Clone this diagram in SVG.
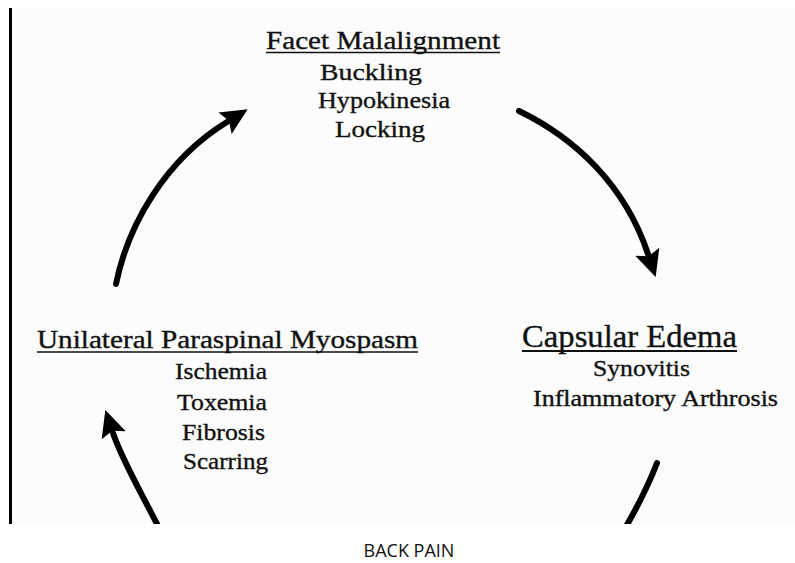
<svg xmlns="http://www.w3.org/2000/svg" width="795" height="563" viewBox="0 0 795 563">
<style>
.t{font-family:"Liberation Serif","Times New Roman",serif;fill:#111;stroke:#111;stroke-width:0.35;text-anchor:start}
.h{font-size:25px}
.h2{font-size:32px}
.s{font-size:23px}
.ul{stroke:#111;stroke-width:1.6}
.arr{fill:none;stroke:#000;stroke-width:6;stroke-linecap:round}
.cap{font-family:"Open Sans","Noto Sans",sans-serif;font-size:18px;fill:#111;text-anchor:middle}
</style>
<defs>
<marker id="ah" markerUnits="userSpaceOnUse" markerWidth="30" markerHeight="30" refX="2" refY="0" viewBox="0 -12 26 24" orient="auto">
<path d="M0,-11 L23,0 L0,11 L4,0 z" fill="#000"/>
</marker>
<clipPath id="pic"><rect x="12" y="8" width="783" height="516"/></clipPath>
</defs>
<rect x="0" y="0" width="795" height="563" fill="#fff"/>
<rect x="12" y="8" width="783" height="516" fill="#fbfcfb"/>
<rect x="9" y="8" width="3" height="516" fill="#000"/>
<g id="connectors" clip-path="url(#pic)">
<path class="arr" d="M116,284 C128,225 165,160 227,122" marker-end="url(#ah)"/>
<path class="arr" d="M519,111 C575,138 625,185 648,254" marker-end="url(#ah)"/>
<path class="arr" d="M657,463 Q645,494 624,530"/>
<path class="arr" d="M160,530 C140,490 122,460 113,433" marker-end="url(#ah)"/>
</g>
<g id="facet">
<text class="t h" x="266" y="49" textLength="234" lengthAdjust="spacingAndGlyphs">Facet Malalignment</text>
<line class="ul" x1="266" y1="52.5" x2="500" y2="52.5"/>
<text class="t s" x="320" y="80" textLength="102" lengthAdjust="spacingAndGlyphs">Buckling</text>
<text class="t s" x="318" y="108" textLength="132" lengthAdjust="spacingAndGlyphs">Hypokinesia</text>
<text class="t s" x="335" y="137" textLength="90" lengthAdjust="spacingAndGlyphs">Locking</text>
</g>
<g id="capsular">
<text class="t h2" x="522" y="347" textLength="215" lengthAdjust="spacingAndGlyphs">Capsular Edema</text>
<line class="ul" x1="522" y1="351" x2="737" y2="351" style="stroke-width:2"/>
<text class="t s" x="593" y="376" textLength="97" lengthAdjust="spacingAndGlyphs">Synovitis</text>
<text class="t s" x="533" y="406" textLength="245" lengthAdjust="spacingAndGlyphs">Inflammatory Arthrosis</text>
</g>
<g id="myospasm">
<text class="t h" x="37" y="348" textLength="381" lengthAdjust="spacingAndGlyphs">Unilateral Paraspinal Myospasm</text>
<line class="ul" x1="37" y1="352" x2="418" y2="352"/>
<text class="t s" x="175" y="379" textLength="92" lengthAdjust="spacingAndGlyphs">Ischemia</text>
<text class="t s" x="177" y="410" textLength="90" lengthAdjust="spacingAndGlyphs">Toxemia</text>
<text class="t s" x="182" y="440" textLength="83" lengthAdjust="spacingAndGlyphs">Fibrosis</text>
<text class="t s" x="183" y="469" textLength="85" lengthAdjust="spacingAndGlyphs">Scarring</text>
</g>
<g id="caption">
<text class="cap" x="409" y="557">BACK PAIN</text>
</g>
</svg>
